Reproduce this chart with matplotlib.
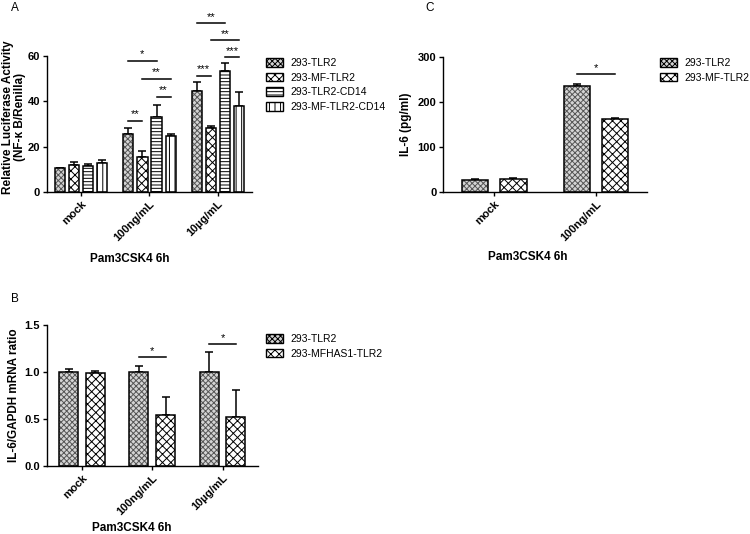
import matplotlib.pyplot as plt
from matplotlib.patches import Patch

plt.rcParams['font.family'] = ['Liberation Sans', 'DejaVu Sans']
plt.rcParams['hatch.linewidth'] = 0.7
plt.rcParams['axes.linewidth'] = 1.0

W, H = 750, 534

# ---- data ----
groups_a = ['mock', '100ng/mL', '10µg/mL']
series_a = ['293-TLR2', '293-MF-TLR2', '293-TLR2-CD14', '293-MF-TLR2-CD14']
vals_a = [[10.4, 25.6, 44.5], [11.9, 15.6, 28.1], [11.6, 33.1, 53.4], [12.6, 24.6, 38.1]]
errs_a = [[0.3, 2.6, 4.2], [1.2, 2.3, 1.0], [0.6, 5.3, 3.6], [1.5, 1.1, 5.9]]
# (group, bar i, bar j, height, label)
sig_a = [(1, 0, 1, 31.5, '**'), (1, 0, 2, 58, '*'), (1, 1, 3, 50, '**'), (1, 2, 3, 42, '**'),
         (2, 0, 1, 51.2, '***'), (2, 0, 2, 74.4, '**'), (2, 1, 3, 67, '**'), (2, 2, 3, 59.4, '***')]

groups_b = ['mock', '100ng/mL', '10µg/mL']
series_b = ['293-TLR2', '293-MFHAS1-TLR2']
vals_b = [[1.0, 1.0, 1.0], [0.99, 0.54, 0.52]]
errs_b = [[0.03, 0.06, 0.21], [0.02, 0.19, 0.29]]
sig_b = [(1, 0, 1, 1.16, '*'), (2, 0, 1, 1.30, '*')]

groups_c = ['mock', '100ng/mL']
series_c = ['293-TLR2', '293-MF-TLR2']
vals_c = [[27, 235], [29, 162]]
errs_c = [[2, 6], [2, 2]]
sig_c = [(1, 0, 1, 262, '*')]

# fill / hatch per series position
styles = [dict(fc='#d4d4d4', hatch='xxxxxx', hc='#555555'),
          dict(fc='white', hatch='xxxx', hc='black'),
          dict(fc='white', hatch='-----', hc='black'),
          dict(fc='white', hatch='|||', hc='black')]

tick_font = dict(fontsize=8, fontweight='bold')
lab_font = dict(fontsize=8.5, fontweight='bold')


def draw_panel(ax, groups, vals, errs, offsets, width, sig, ylim, yticks, yfmt):
    x = list(range(len(groups)))
    for k, (v, e) in enumerate(zip(vals, errs)):
        st = styles[k]
        pos = [xi + offsets[k] for xi in x]
        ax.bar(pos, v, width, color=st['fc'], hatch=st['hatch'], edgecolor=st['hc'], linewidth=0, zorder=2)
        ax.bar(pos, v, width, fill=False, edgecolor='black', linewidth=1.1, zorder=3)
        ax.errorbar(pos, v, yerr=[[0] * len(e), e], fmt='none', ecolor='black',
                    elinewidth=1.1, capsize=3, capthick=1.1, zorder=1)
    for g, i, j, y, lab in sig:
        x0 = g + offsets[i]
        x1 = g + offsets[j]
        ax.plot([x0, x1], [y, y], color='black', lw=1.1, clip_on=False)
        ax.annotate(lab, ((x0 + x1) / 2, y), xytext=(0, 1), textcoords='offset points',
                    ha='center', va='bottom', fontsize=8, clip_on=False, annotation_clip=False)
    ax.set_xlim(-0.5, len(groups) - 0.5)
    ax.set_ylim(*ylim)
    ax.set_yticks(yticks)
    ax.set_yticklabels([yfmt.format(t) for t in yticks], **tick_font)
    ax.set_xticks(x)
    ax.set_xticklabels(groups, rotation=45, ha='right', rotation_mode='anchor', **tick_font)
    ax.spines['top'].set_visible(False)
    ax.spines['right'].set_visible(False)
    ax.tick_params(axis='both', length=3, width=1.0, pad=2)


fig = plt.figure(figsize=(W / 100, H / 100), dpi=100)

# panel A
axA = fig.add_axes([47 / W, 1 - 192 / H, 205 / W, 136 / H])
offA = [-0.31, -0.103, 0.103, 0.31]
draw_panel(axA, groups_a, vals_a, errs_a, offA, 0.15, sig_a, (0, 60), [0, 20, 40, 60], '{:d}')
axA.set_ylabel('Relative Luciferase Activity\n(NF-κ B/Renilla)', linespacing=1.0, **lab_font)
axA.yaxis.set_label_coords(-0.1, 0.55)
axA.set_xlabel('Pam3CSK4 6h', **lab_font)
axA.xaxis.set_label_coords(0.405, -0.45)

# panel B
axB = fig.add_axes([46.7 / W, 1 - 465.7 / H, 211 / W, 140.4 / H])
offB = [-0.19, 0.19]
draw_panel(axB, groups_b, vals_b, errs_b, offB, 0.27, sig_b, (0, 1.5), [0, 0.5, 1.0, 1.5], '{:.1f}')
axB.set_ylabel('IL-6/GAPDH mRNA ratio', **lab_font)
axB.yaxis.set_label_coords(-0.125, 0.5)
axB.set_xlabel('Pam3CSK4 6h', **lab_font)
axB.xaxis.set_label_coords(0.403, -0.40)

# panel C
axC = fig.add_axes([443.3 / W, 1 - 191.7 / H, 203.7 / W, 134.4 / H])
offC = [-0.187, 0.187]
draw_panel(axC, groups_c, vals_c, errs_c, offC, 0.26, sig_c, (0, 300), [0, 100, 200, 300], '{:d}')
axC.set_ylabel('IL-6 (pg/ml)', **lab_font)
axC.set_xlabel('Pam3CSK4 6h', **lab_font)
axC.xaxis.set_label_coords(0.413, -0.44)

# panel letters
fig.text(15 / W, 1 - 8 / H, 'A', fontsize=8.5, ha='center', va='center')
fig.text(15 / W, 1 - 299 / H, 'B', fontsize=8.5, ha='center', va='center')
fig.text(430 / W, 1 - 8 / H, 'C', fontsize=8.5, ha='center', va='center')


def legend(series, x, y):
    handles = [Patch(facecolor=styles[k]['fc'], hatch=styles[k]['hatch'], edgecolor='black', linewidth=1.0)
               for k in range(len(series))]
    fig.legend(handles, series, loc='upper left', bbox_to_anchor=(x / W, 1 - y / H),
               frameon=False, fontsize=7.5, handlelength=1.6, handleheight=0.9,
               handletextpad=0.7, labelspacing=0.45, borderpad=0, borderaxespad=0)


legend(series_a, 266, 58)
legend(series_b, 266, 334)
legend(series_c, 660, 58)

fig.savefig('out.png', dpi=100)
